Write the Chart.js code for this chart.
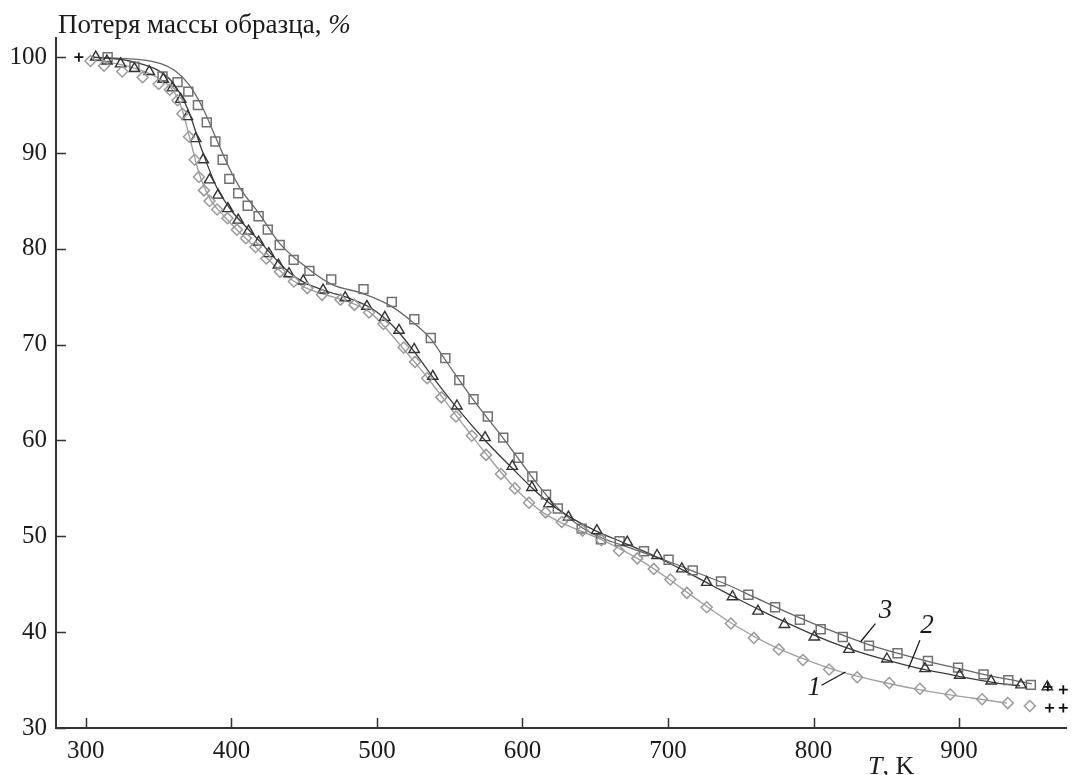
<!DOCTYPE html>
<html>
<head>
<meta charset="utf-8">
<script src="https://cdn.jsdelivr.net/npm/chart.js@4.4.0/dist/chart.umd.min.js"></script>
<style>
  html, body { margin: 0; padding: 0; background: #fff; }
  #wrap { width: 1074px; height: 775px; }
</style>
</head>
<body>
<div id="wrap"><canvas id="tgaChart" width="1074" height="775"></canvas></div>
<script>
// measured points, sample 1 (diamonds)
const temp1 = [303.2, 312.5, 325, 339, 350, 357.7, 363, 366.3, 370.9, 374.8, 377.7, 381.2, 385, 390.2,
    397.3, 403.8, 410, 416.6, 424, 433.4, 443, 452.2, 462.3, 475, 484.6, 494.6, 504.5, 518.4, 526.2,
    534.5, 544.3, 554.3, 565.2, 575, 585.2, 594.8, 604.5, 615.9, 627, 641.3, 654.3, 666.3, 678.9,
    690.2, 701.6, 713, 726.6, 743.2, 759, 776.1, 792.7, 810.7, 830, 852, 873.1, 894, 915.8, 933.4, 948.6];
const loss1 = [99.6, 99.1, 98.5, 97.9, 97.2, 96.6, 95.5, 94.1, 91.7, 89.3, 87.5, 86.1, 85.0, 84.1,
    83.2, 82.0, 81.1, 80.2, 79.0, 77.6, 76.6, 75.9, 75.2, 74.7, 74.15, 73.35, 72.15, 69.7, 68.2,
    66.5, 64.5, 62.5, 60.5, 58.5, 56.5, 55.0, 53.5, 52.5, 51.5, 50.6, 49.6, 48.5, 47.7,
    46.6, 45.5, 44.1, 42.6, 40.9, 39.4, 38.2, 37.1, 36.1, 35.3, 34.7, 34.1, 33.5, 33.0, 32.6, 32.3];

// sample 2 (triangles)
const temp2 = [306.8, 314.5, 323.9, 333.4, 343.6, 353.2, 359.5, 365.2, 369.8, 375.5, 380.7, 385, 390.8,
    397.6, 404.7, 411.8, 418.7, 425.7, 432.3, 439.6, 449.4, 463, 478.2, 493.1, 505.4, 515.2, 525.6,
    538.4, 555, 574.3, 593, 606.5, 618.2, 631.6, 651.1, 672, 692.5, 709.5, 726.6, 744.3, 761.8, 780,
    800.5, 824.3, 850.4, 876.6, 900.4, 922, 942.5, 960.6];
const loss2 = [100, 99.6, 99.3, 98.8, 98.5, 97.7, 96.8, 95.6, 93.8, 91.5, 89.3, 87.2, 85.6,
    84.2, 83.0, 81.85, 80.7, 79.5, 78.3, 77.4, 76.65, 75.7, 74.9, 74.0, 72.85, 71.5, 69.5,
    66.7, 63.6, 60.3, 57.3, 55.1, 53.4, 52.0, 50.6, 49.4, 48.0, 46.6, 45.2, 43.7, 42.2, 40.8,
    39.5, 38.2, 37.2, 36.2, 35.5, 34.9, 34.5, 34.3];

// sample 3 (squares)
const temp3 = [315, 333.4, 352.7, 363, 370.4, 377, 383.1, 389, 394, 398.6, 404.7, 411.2, 418.7, 425,
    433.2, 442.8, 453.6, 468.6, 490.8, 510.2, 525.7, 537, 547, 556.6, 566.4, 576.2, 586.8, 597.3,
    606.8, 616.2, 624.3, 640.7, 653.9, 666.8, 683.5, 700.4, 717, 736.4, 755.2, 773.6, 790.6, 804.9,
    820.1, 838.1, 857.7, 878.6, 899.3, 916.8, 933.8, 949.3];
const loss3 = [100, 99.0, 98.0, 97.4, 96.4, 95.0, 93.2, 91.2, 89.3, 87.3, 85.8, 84.5, 83.4, 82.0,
    80.4, 78.85, 77.7, 76.8, 75.8, 74.45, 72.65, 70.7, 68.6, 66.3, 64.3, 62.5, 60.3, 58.2,
    56.25, 54.35, 52.9, 50.8, 49.7, 49.5, 48.45, 47.55, 46.45, 45.3, 43.9, 42.6, 41.3, 40.3,
    39.5, 38.6, 37.8, 37.0, 36.3, 35.6, 35.0, 34.5];

// fitted curves
const fitT1 = [303, 330, 350, 360, 366, 372, 378, 385, 395, 405, 420, 435, 450, 465, 480, 495, 505, 518,
    535, 555, 575, 595, 615, 630, 655, 680, 700, 720, 745, 770, 795, 820, 850, 880, 910, 933];
const fitV1 = [99.8, 99.0, 97.8, 96.5, 94.6, 91.2, 87.8, 85.3, 83.4, 81.8, 79.7, 77.5, 76.0, 75.2, 74.5,
    73.4, 71.9, 69.6, 66.5, 62.5, 58.6, 55.0, 52.4, 51.2, 49.6, 47.6, 45.6, 43.4, 40.8, 38.7, 37.1,
    35.8, 34.7, 33.8, 33.1, 32.6];

const fitT2 = [305, 330, 350, 360, 370, 380, 390, 400, 410, 420, 430, 440, 450, 465, 480, 495, 505, 515,
    525, 540, 555, 575, 593, 607, 620, 635, 650, 670, 690, 710, 730, 750, 770, 790, 810, 830, 850,
    870, 890, 910, 930, 942];
const fitV2 = [100, 99.6, 98.6, 97.3, 94.6, 90.2, 86.4, 84.0, 82.3, 80.7, 79.0, 77.5, 76.5, 75.6, 74.9,
    73.9, 72.8, 71.3, 69.4, 66.3, 63.4, 59.9, 57.1, 55.0, 53.3, 51.8, 50.6, 49.3, 48.0, 46.5, 44.9,
    43.3, 41.8, 40.4, 39.1, 38.0, 37.1, 36.3, 35.7, 35.1, 34.6, 34.4];

const fitT3 = [305, 340, 352, 362, 371, 380, 389, 398, 407, 419, 433, 453, 469, 491, 510, 525, 537, 547,
    566, 587, 607, 624, 640, 655, 670, 685, 700, 720, 740, 760, 780, 800, 820, 840, 860, 880, 900,
    920, 940, 950];
const fitV3 = [100, 99.7, 99.3, 98.5, 97.1, 94.8, 91.7, 88.6, 86.1, 83.7, 80.6, 77.9, 76.3, 75.3, 74.0,
    72.3, 70.6, 68.4, 64.3, 60.2, 56.1, 53.0, 51.0, 49.8, 49.0, 48.2, 47.4, 46.2, 45.0, 43.6, 42.2,
    40.9, 39.7, 38.6, 37.7, 36.9, 36.2, 35.5, 34.9, 34.6];

// odd "+" marks at start and at the right edge
const plusT = [295.2, 961, 971.6, 962.2, 971.6];
const plusV = [100, 34.3, 34.0, 32.1, 32.1];

// curve numbers with leader lines: [label, textT, textV, fromT, fromV, toT, toV]
const curveLabels = [
    ['3', 849.5, 42.2, 842.5, 40.9, 832.3, 39.0],
    ['2', 878, 40.7, 873.1, 39.15, 865.2, 36.2],
    ['1', 800.5, 34.2, 805.5, 34.46, 822, 35.85]
];

const yTicks = [30, 40, 50, 60, 70, 80, 90, 100];
const xTicks = [300, 400, 500, 600, 700, 800, 900];

const SERIF = '"Liberation Serif", "DejaVu Serif", serif';

function pts(xs, ys) {
    return xs.map((x, i) => ({ x: x, y: ys[i] }));
}

const decorPlugin = {
    id: 'decor',
    afterDraw(chart) {
        const ctx = chart.ctx;
        const xs = chart.scales.x, ys = chart.scales.y;
        const area = chart.chartArea;
        ctx.save();
        // inward tick marks
        ctx.strokeStyle = '#333';
        ctx.lineWidth = 1.5;
        ctx.beginPath();
        yTicks.forEach(v => {
            const py = Math.round(ys.getPixelForValue(v)) + 0.5;
            ctx.moveTo(area.left, py);
            ctx.lineTo(area.left + 10, py);
        });
        xTicks.forEach(t => {
            const px = Math.round(xs.getPixelForValue(t)) + 0.5;
            ctx.moveTo(px, area.bottom);
            ctx.lineTo(px, area.bottom - 10);
        });
        ctx.stroke();

        // axis titles
        ctx.fillStyle = '#1a1a1a';
        ctx.textBaseline = 'alphabetic';
        ctx.textAlign = 'left';
        ctx.font = '27px ' + SERIF;
        const yTitle = 'Потеря массы образца, ';
        ctx.fillText(yTitle, 58, 33);
        const w = ctx.measureText(yTitle).width;
        ctx.font = 'italic 27px ' + SERIF;
        ctx.fillText('%', 58 + w, 33);

        ctx.font = 'italic 26px ' + SERIF;
        ctx.fillText('T', 868, 774);
        const wt = ctx.measureText('T').width;
        ctx.font = '26px ' + SERIF;
        ctx.fillText(', K', 868 + wt, 774);

        // curve numbers
        ctx.strokeStyle = '#111';
        ctx.lineWidth = 1.2;
        ctx.font = 'italic 27px ' + SERIF;
        ctx.textAlign = 'center';
        ctx.textBaseline = 'middle';
        curveLabels.forEach(l => {
            ctx.fillText(l[0], xs.getPixelForValue(l[1]), ys.getPixelForValue(l[2]));
            ctx.beginPath();
            ctx.moveTo(xs.getPixelForValue(l[3]), ys.getPixelForValue(l[4]));
            ctx.lineTo(xs.getPixelForValue(l[5]), ys.getPixelForValue(l[6]));
            ctx.stroke();
        });
        ctx.restore();
    }
};

const ctx = document.getElementById('tgaChart').getContext('2d');
new Chart(ctx, {
    type: 'scatter',
    data: {
        datasets: [
            {
                label: 'plus',
                data: pts(plusT, plusV),
                pointStyle: 'cross',
                pointRadius: 4.5,
                borderColor: '#111',
                borderWidth: 1.8,
                showLine: false,
                clip: false
            },
            {
                label: '1',
                data: pts(temp1, loss1),
                pointStyle: 'rectRot',
                pointRadius: 5.5,
                borderColor: '#9a9a9a',
                backgroundColor: 'rgba(0,0,0,0)',
                borderWidth: 1.5,
                showLine: false,
                clip: false
            },
            {
                label: '2',
                data: pts(temp2, loss2),
                pointStyle: 'triangle',
                pointRadius: 6,
                borderColor: '#333',
                backgroundColor: 'rgba(0,0,0,0)',
                borderWidth: 1.4,
                showLine: false,
                clip: false
            },
            {
                label: '3',
                data: pts(temp3, loss3),
                pointStyle: 'rect',
                pointRadius: 6.3,
                borderColor: '#707070',
                backgroundColor: 'rgba(0,0,0,0)',
                borderWidth: 1.5,
                showLine: false,
                clip: false
            },
            {
                label: 'fit 1',
                data: pts(fitT1, fitV1),
                showLine: true,
                pointRadius: 0,
                borderColor: '#a0a0a0',
                borderWidth: 1.4,
                cubicInterpolationMode: 'monotone'
            },
            {
                label: 'fit 2',
                data: pts(fitT2, fitV2),
                showLine: true,
                pointRadius: 0,
                borderColor: '#3a3a3a',
                borderWidth: 1.3,
                cubicInterpolationMode: 'monotone'
            },
            {
                label: 'fit 3',
                data: pts(fitT3, fitV3),
                showLine: true,
                pointRadius: 0,
                borderColor: '#666',
                borderWidth: 1.3,
                cubicInterpolationMode: 'monotone'
            }
        ]
    },
    options: {
        responsive: false,
        animation: false,
        devicePixelRatio: 1,
        layout: { padding: { top: 38, left: 0, right: 0, bottom: 0 } },
        plugins: {
            legend: { display: false },
            tooltip: { enabled: false }
        },
        scales: {
            x: {
                type: 'linear',
                min: 279.5,
                max: 973.6,
                afterFit(scale) { scale.height = 47; },
                afterBuildTicks(scale) { scale.ticks = xTicks.map(v => ({ value: v })); },
                grid: { display: false, drawTicks: false },
                border: { color: '#333', width: 2 },
                ticks: {
                    padding: 8,
                    color: '#1a1a1a',
                    font: { family: SERIF, size: 25 },
                    maxRotation: 0
                }
            },
            y: {
                type: 'linear',
                min: 30,
                max: 102,
                afterFit(scale) { scale.width = 56; },
                afterBuildTicks(scale) { scale.ticks = yTicks.map(v => ({ value: v })); },
                grid: { display: false, drawTicks: false },
                border: { color: '#333', width: 2 },
                ticks: {
                    padding: 9,
                    color: '#1a1a1a',
                    font: { family: SERIF, size: 25 }
                }
            }
        }
    },
    plugins: [decorPlugin]
});
</script>
</body>
</html>
